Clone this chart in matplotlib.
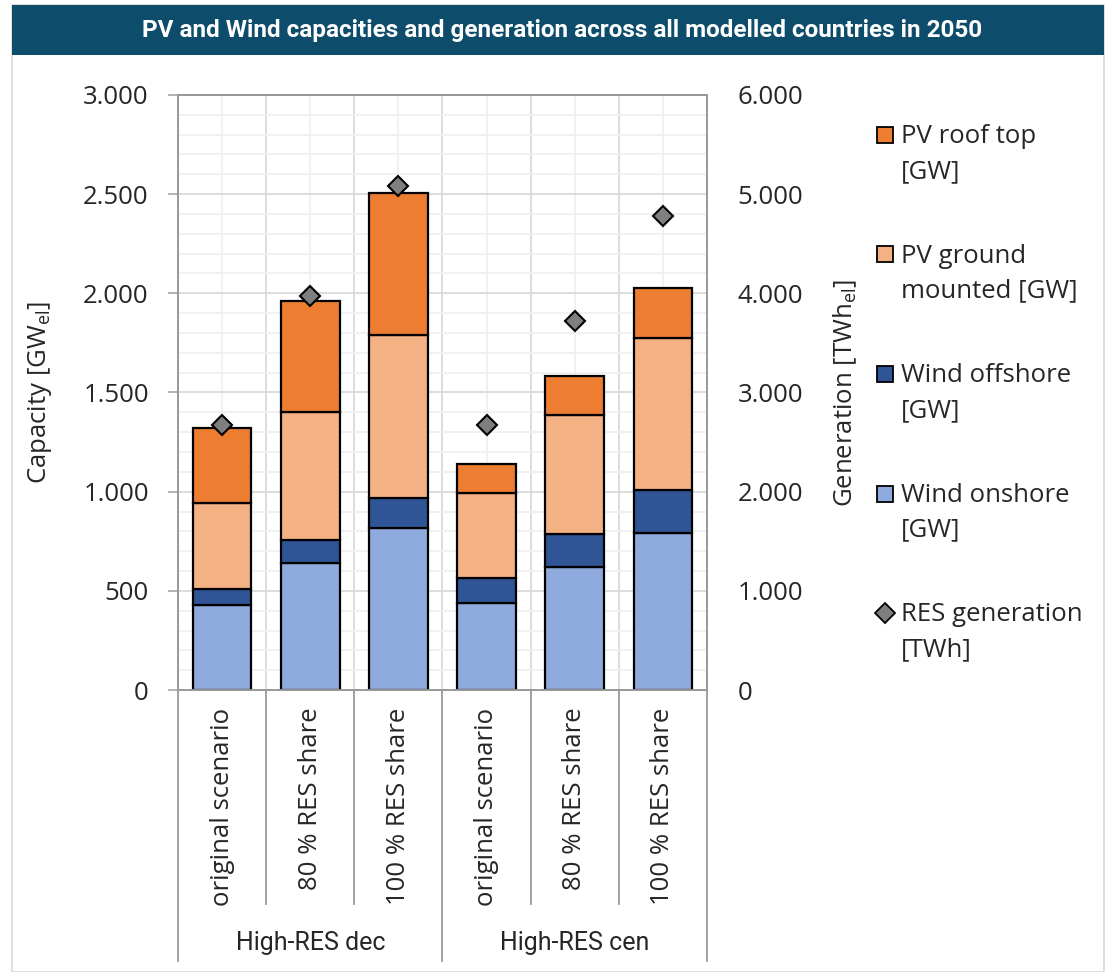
import numpy as np
import matplotlib as mpl
import matplotlib.pyplot as plt
from matplotlib.patches import Rectangle
from matplotlib.lines import Line2D
from matplotlib.ticker import MultipleLocator, FuncFormatter

mpl.rcParams['font.family'] = ['Open Sans', 'DejaVu Sans']
mpl.rcParams['mathtext.default'] = 'regular'

groups = ['High-RES dec', 'High-RES cen']
scenarios = ['original scenario', '80 % RES share', '100 % RES share']
categories = scenarios * len(groups)

# capacities in GW
wind_onshore = [428, 638, 817, 441, 618, 791]
wind_offshore = [80, 117, 153, 126, 170, 216]
pv_ground = [435, 646, 820, 428, 597, 767]
pv_roof = [379, 562, 718, 145, 200, 253]
# generation in TWh
res_generation = [2674, 3970, 5080, 2674, 3725, 4777]

series = [('Wind onshore\n[GW]', wind_onshore, '#8FAADC'),
          ('Wind offshore\n[GW]', wind_offshore, '#2F5597'),
          ('PV ground\nmounted [GW]', pv_ground, '#F4B183'),
          ('PV roof top\n[GW]', pv_roof, '#ED7D31')]

txt = '#262626'
fs = 18.5
W, H = 1111, 972
fig = plt.figure(figsize=(W / 100, H / 100), dpi=100)

# frame and title bar
fig.patches.append(Rectangle((12 / W, 0), 1092 / W, 967 / H, transform=fig.transFigure,
                             fill=False, edgecolor='#D9D9D9', lw=1.2))
fig.patches.append(Rectangle((12 / W, 1 - 55 / H), 1092 / W, 50 / H, transform=fig.transFigure,
                             facecolor='#0D4C6B', edgecolor='none'))
fig.text(562 / W, 1 - 30 / H, 'PV and Wind capacities and generation across all modelled countries in 2050',
         color='white', fontsize=17.5, fontweight='bold', ha='center', va='center',
         family=['Roboto', 'DejaVu Sans'])

ax = fig.add_axes([178 / W, 1 - 690 / H, 529 / W, 595 / H])
x = np.arange(len(categories))

bottom = np.zeros(len(categories))
for name, vals, col in series:
    ax.bar(x, vals, 0.667, bottom=bottom, color=col, edgecolor='black', lw=1.6, zorder=3)
    bottom += np.array(vals)

ax.set_xlim(-0.5, len(categories) - 0.5)
ax.set_ylim(0, 3000)
ax.yaxis.set_major_locator(MultipleLocator(500))
ax.yaxis.set_minor_locator(MultipleLocator(100))
ax.yaxis.set_major_formatter(FuncFormatter(lambda v, p: f'{int(v):,}'.replace(',', '.')))
ax.set_xticks(x + 0.5, minor=False)
ax.set_xticks(x, minor=True)
ax.grid(which='major', color='#D9D9D9', lw=1.3, zorder=0)
ax.grid(which='minor', color='#F0F0F0', lw=1.3, zorder=0)
ax.set_axisbelow(True)
ax.tick_params(axis='x', which='both', length=0, labelbottom=False)
ax.tick_params(axis='y', which='major', length=7, width=1.2, color='#A6A6A6', pad=14,
               labelsize=fs, labelcolor=txt)
ax.tick_params(axis='y', which='minor', length=0)
for s in ax.spines.values():
    s.set_color('#9A9A9A')
    s.set_linewidth(1.3)
ax.set_ylabel(r'Capacity [GW$_{el}$]', fontsize=fs, color=txt)
ax.yaxis.set_label_coords((54 - 178) / 529, 0.5)

ax2 = ax.twinx()
ax2.plot(x, res_generation, linestyle='none', marker='D', markersize=10.5,
         markerfacecolor='#7F7F7F', markeredgecolor='black', markeredgewidth=1.5, zorder=5)
ax2.set_ylim(0, 6000)
ax2.yaxis.set_major_locator(MultipleLocator(1000))
ax2.yaxis.set_major_formatter(FuncFormatter(lambda v, p: f'{int(v):,}'.replace(',', '.')))
ax2.tick_params(axis='y', length=0, pad=22, labelsize=fs, labelcolor=txt)
for s in ax2.spines.values():
    s.set_color('#9A9A9A')
    s.set_linewidth(1.3)
ax2.set_ylabel(r'Generation [TWh$_{el}$]', fontsize=fs, color=txt)
ax2.yaxis.set_label_coords((832 - 178) / 529, 0.5)

# two-level category axis
tr = ax.get_xaxis_transform()
for i, lab in enumerate(categories):
    ax.text(i, -0.03, lab, transform=tr, rotation=90, ha='center', va='top',
            fontsize=fs, color=txt)
n = len(scenarios)
for b in range(len(categories) + 1):
    low = -0.455 if b % n == 0 else -0.36
    ax.plot([b - 0.5, b - 0.5], [0, low], transform=tr, color='#9A9A9A', lw=1.3, clip_on=False)
for g, lab in enumerate(groups):
    ax.text(g * n + (n - 1) / 2, -0.425, lab, transform=tr, ha='center', va='center',
            fontsize=18, color=txt, family=['Roboto', 'DejaVu Sans'])

# legend
entries = [(name, col, 's') for name, vals, col in series[::-1]]
entries.append(('RES generation\n[TWh]', '#7F7F7F', 'D'))
for k, (name, col, mk) in enumerate(entries):
    yc = 1 - (135 + 119.5 * k) / H
    fig.add_artist(Line2D([885 / W], [yc], marker=mk, markersize=11 if mk == 's' else 10,
                          markerfacecolor=col, markeredgecolor='black', markeredgewidth=1.3,
                          linestyle='none', transform=fig.transFigure))
    fig.text(901 / W, yc + 11 / H, name, fontsize=fs, color=txt, ha='left', va='top',
             linespacing=1.52)

fig.savefig('out.png', dpi=100)
